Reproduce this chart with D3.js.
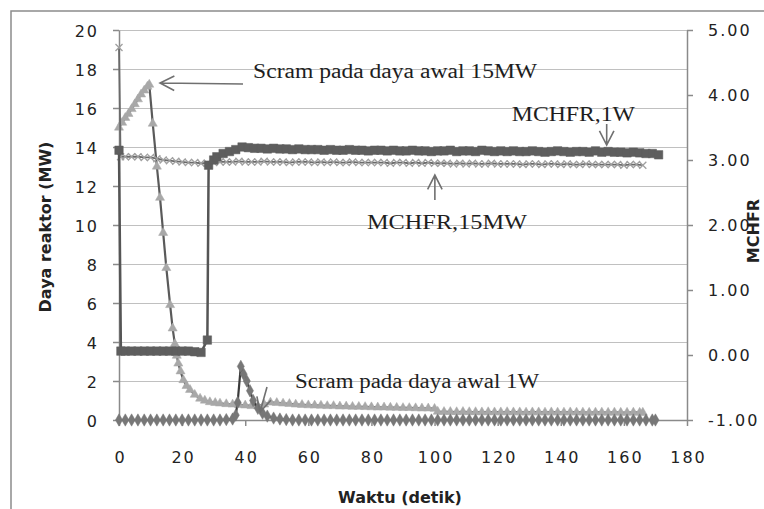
<!DOCTYPE html>
<html>
<head>
<meta charset="utf-8">
<script src="https://cdn.jsdelivr.net/npm/d3@7"></script>
<style>
    body { margin: 0; background: #fff; }
    text { font-family: "DejaVu Sans", sans-serif; }
</style>
</head>
<body>
<div id="chart"></div>
<script>
(function(){
    "use strict";

    // axis ticks
    var xTicks = [0, 20, 40, 60, 80, 100, 120, 140, 160, 180];
    var leftTicks = [0, 2, 4, 6, 8, 10, 12, 14, 16, 18, 20];
    var rightTicks = [-1, 0, 1, 2, 3, 4, 5];

    // Daya reaktor, scram pada daya awal 15MW (MW, left axis)
    var tPower15 = [0, 1, 2, 3, 4, 5, 6, 7, 8, 9, 9.6, 10.7, 12, 13, 14, 15, 16.2, 17, 17.7, 18.3, 18.8, 19.5,
        20.4, 21.4, 22.5, 24, 25.7, 27.2, 28.8, 30.5,
        32, 34, 36, 38, 40, 42, 44, 46, 48, 50, 52, 54, 56, 58, 60, 62, 64, 66, 68, 70, 72, 74, 76, 78, 80,
        82, 84, 86, 88, 90, 92, 94, 96, 98, 100,
        101, 103, 105, 107, 109, 111, 113, 115, 117, 119, 121, 123, 125, 127, 129, 131, 133, 135, 137, 139,
        141, 143, 145, 147, 149, 151, 153, 155, 157, 159, 161, 163, 165, 166];
    var power15 = [15.0, 15.25, 15.5, 15.7, 15.95, 16.2, 16.45, 16.7, 16.9, 17.1, 17.2, 15.2, 13.0, 11.4, 9.6, 7.8,
        5.9, 4.7, 3.9, 3.3, 2.9, 2.5, 2.05, 1.75, 1.55, 1.3, 1.1, 1.0, 0.92, 0.88,
        0.85, 0.82, 0.8, 0.78, 0.75, 0.72, 0.72, 0.8, 0.9, 0.88, 0.85, 0.83, 0.8, 0.78, 0.76, 0.75, 0.74, 0.72,
        0.72, 0.7, 0.7, 0.68, 0.68, 0.67, 0.66, 0.65, 0.65, 0.64, 0.63, 0.62, 0.62, 0.61, 0.6, 0.6, 0.58,
        0.43, 0.42, 0.42, 0.41, 0.42, 0.41, 0.41, 0.4, 0.41, 0.4, 0.4, 0.41, 0.4, 0.4, 0.39, 0.4, 0.4, 0.39,
        0.4, 0.39, 0.39, 0.4, 0.39, 0.39, 0.38, 0.39, 0.39, 0.38, 0.39, 0.38, 0.38, 0.39, 0.38, 0.38];

    // MCHFR, 15MW (right axis)
    var tMchfr15 = [0, 0.5, 2, 4, 6, 8, 10, 12, 14, 16, 18, 20, 22, 24, 26, 28,
        30, 32, 34, 36, 38, 40, 42, 44, 46, 48, 50, 52, 54, 56, 58, 60, 62, 64, 66, 68, 70, 72, 74, 76, 78,
        80, 82, 84, 86, 88, 90, 92, 94, 96, 98, 100,
        102, 104, 106, 108, 110, 112, 114, 116, 118, 120, 122, 124, 126, 128, 130, 132, 134, 136, 138, 140,
        142, 144, 146, 148, 150, 152, 154, 156, 158, 160, 162, 164, 166];
    var mchfr15 = [4.73, 3.05, 3.05, 3.05, 3.05, 3.04, 3.04, 3.02, 3.0, 2.99, 2.98, 2.97, 2.96, 2.96, 2.95, 2.95,
        2.96, 2.97, 2.97, 2.97, 2.98, 2.97, 2.97, 2.97, 2.98, 2.97, 2.97, 2.97, 2.96, 2.97, 2.97, 2.97, 2.96,
        2.97, 2.96, 2.97, 2.96, 2.96, 2.97, 2.96, 2.96, 2.96, 2.96, 2.96, 2.95, 2.96, 2.96, 2.95, 2.96, 2.95,
        2.96, 2.95,
        2.95, 2.95, 2.94, 2.95, 2.94, 2.95, 2.94, 2.94, 2.95, 2.94, 2.94, 2.94, 2.94, 2.93, 2.94, 2.94, 2.93,
        2.94, 2.94, 2.93, 2.94, 2.93, 2.93, 2.94, 2.93, 2.93, 2.93, 2.93, 2.93, 2.92, 2.93, 2.93, 2.92];

    // Daya reaktor, scram pada daya awal 1W (MW, left axis)
    var tPower1 = [0, 2, 4, 6, 8, 10, 12, 14, 16, 18, 20, 22, 24, 26, 28, 30, 32, 34, 36,
        37, 37.6, 38.6, 39.5, 40.5, 41.5, 42.5, 44, 45.5, 47, 49, 51, 53,
        55, 57, 59, 61, 63, 65, 67, 69, 71, 73, 75, 77, 79, 81, 83, 85, 87, 89, 91, 93, 95, 97, 99,
        101, 103, 105, 107, 109, 111, 113, 115, 117, 119, 121, 123, 125, 127, 129, 131, 133, 135, 137, 139,
        141, 143, 145, 147, 149, 151, 153, 155, 157, 159, 161, 163, 165, 167, 169, 170];
    var power1 = [0, 0, 0, 0, 0, 0, 0, 0, 0, 0, 0, 0, 0, 0, 0, 0, 0, 0.02, 0.05,
        0.25, 0.9, 2.75, 2.35, 2.0, 1.5, 1.0, 0.6, 0.35, 0.2, 0.1, 0.05, 0.02,
        0, 0, 0, 0, 0, 0, 0, 0, 0, 0, 0, 0, 0, 0, 0, 0, 0, 0, 0, 0, 0, 0, 0,
        0, 0, 0, 0, 0, 0, 0, 0, 0, 0, 0, 0, 0, 0, 0, 0, 0, 0, 0, 0,
        0, 0, 0, 0, 0, 0, 0, 0, 0, 0, 0, 0, 0, 0, 0, 0];

    // MCHFR, 1W (right axis)
    var tMchfr1 = [0, 0.6, 2, 4, 6, 8, 10, 12, 14, 16, 18, 20, 22, 24, 26,
        28, 28.4, 30, 31, 33, 35, 37, 39, 41,
        43, 45, 47, 49, 51, 53, 55, 57, 59, 61, 63, 65, 67, 69, 71, 73, 75, 77, 79, 81,
        83, 85, 87, 89, 91, 93, 95, 97, 99, 101, 103, 105, 107, 109, 111, 113, 115, 117, 119, 121,
        123, 125, 127, 129, 131, 133, 135, 137, 139, 141, 143, 145, 147, 149, 151, 153, 155, 157, 159, 161,
        163, 165, 167, 169, 171];
    var mchfr1 = [3.15, 0.06, 0.06, 0.06, 0.06, 0.06, 0.06, 0.06, 0.06, 0.06, 0.06, 0.06, 0.06, 0.05, 0.04,
        0.23, 2.92, 3.0, 3.05, 3.1, 3.13, 3.16, 3.2, 3.19,
        3.18, 3.18, 3.17, 3.18, 3.17, 3.17, 3.16, 3.17, 3.16, 3.16, 3.16, 3.15, 3.16, 3.15, 3.15, 3.16, 3.15,
        3.15, 3.14, 3.15,
        3.15, 3.14, 3.15, 3.14, 3.14, 3.15, 3.14, 3.14, 3.13, 3.14, 3.14, 3.15, 3.13, 3.14, 3.14, 3.13, 3.15,
        3.14, 3.13, 3.14,
        3.13, 3.14, 3.13, 3.13, 3.14, 3.13, 3.12, 3.13, 3.14, 3.13, 3.12, 3.13, 3.13, 3.12, 3.14, 3.12, 3.13,
        3.12, 3.12, 3.11,
        3.12, 3.11, 3.1, 3.1, 3.08];

    // annotation texts
    var notes = ["Scram pada daya awal 15MW", "MCHFR,1W", "MCHFR,15MW", "Scram pada daya awal 1W"];

    var margin = {top: 30, right: 77, bottom: 89, left: 119},
        width = 764 - margin.left - margin.right,
        height = 509 - margin.top - margin.bottom;

    var x = d3.scaleLinear().domain([0, 180]).range([0, width]);
    var yL = d3.scaleLinear().domain([0, 20]).range([height, 0]);
    var yR = d3.scaleLinear().domain([-1, 5]).range([height, 0]);

    var svg = d3.select("#chart").append("svg")
        .attr("width", 764)
        .attr("height", 509);

    svg.append("rect").attr("width", 764).attr("height", 509).attr("fill", "#fff");

    // chart frame (runs off the picture to the right and bottom)
    svg.append("rect")
        .attr("x", 11).attr("y", 11)
        .attr("width", 800).attr("height", 600)
        .attr("fill", "none")
        .attr("stroke", "#8c8c8c")
        .attr("stroke-width", 1.5);

    var g = svg.append("g")
        .attr("transform", "translate(" + margin.left + "," + margin.top + ")");

    // gridlines
    g.append("g")
        .call(d3.axisLeft(yL).tickValues(leftTicks).tickSize(-width).tickFormat(""))
        .call(function(s) {
            s.select(".domain").remove();
            s.selectAll("line").attr("stroke", "#c0c0c0").attr("stroke-width", 1);
        });

    function styleAxis(s) {
        s.select(".domain").attr("stroke", "#8a8a8a").attr("stroke-width", 1.5);
        s.selectAll(".tick line").attr("stroke", "#8a8a8a").attr("stroke-width", 1.5);
        s.selectAll(".tick text")
            .attr("fill", "#222")
            .style("font-size", "16px")
            .style("letter-spacing", "2px");
    }

    // left axis
    g.append("g")
        .call(d3.axisLeft(yL).tickValues(leftTicks).tickSize(6).tickSizeOuter(0))
        .call(styleAxis)
        .call(function(s) {
            s.selectAll(".tick text").attr("x", -20).attr("dy", "0.4em");
        });

    // bottom axis
    g.append("g")
        .attr("transform", "translate(0," + height + ")")
        .call(d3.axisBottom(x).tickValues(xTicks).tickSize(6).tickSizeOuter(0))
        .call(styleAxis)
        .call(function(s) {
            s.selectAll(".tick text").attr("y", 43).attr("dy", 0).attr("dx", "1px");
        });

    // right axis
    g.append("g")
        .attr("transform", "translate(" + width + ",0)")
        .call(d3.axisRight(yR).tickValues(rightTicks).tickSize(6).tickSizeOuter(0)
            .tickFormat(function(d) { return d.toFixed(2); }))
        .call(styleAxis)
        .call(function(s) {
            s.selectAll(".tick text").attr("x", 21).attr("dy", "0.36em");
        });

    // axis titles
    svg.append("text")
        .attr("transform", "translate(51,227) rotate(-90)")
        .attr("text-anchor", "middle")
        .attr("fill", "#222")
        .style("font-size", "16px")
        .style("font-weight", "bold")
        .text("Daya reaktor (MW)");

    svg.append("text")
        .attr("x", 400).attr("y", 503)
        .attr("text-anchor", "middle")
        .attr("fill", "#222")
        .style("font-size", "16px")
        .style("font-weight", "bold")
        .text("Waktu (detik)");

    svg.append("text")
        .attr("transform", "translate(759,231) rotate(-90)")
        .attr("text-anchor", "middle")
        .attr("fill", "#222")
        .style("font-size", "16px")
        .style("font-weight", "bold")
        .text("MCHFR");

    // series
    function drawSeries(ts, vs, y, opt) {
        var pts = d3.zip(ts, vs);
        var line = d3.line()
            .x(function(d) { return x(d[0]); })
            .y(function(d) { return y(d[1]); });

        g.append("path")
            .datum(pts)
            .attr("d", line)
            .attr("fill", "none")
            .attr("stroke", opt.line)
            .attr("stroke-width", opt.lw);

        g.append("g").selectAll("path")
            .data(pts)
            .enter().append("path")
            .attr("transform", function(d) { return "translate(" + x(d[0]) + "," + y(d[1]) + ")"; })
            .attr("d", d3.symbol().type(opt.symbol).size(opt.size))
            .attr("fill", opt.hollow ? "none" : opt.marker)
            .attr("stroke", opt.marker)
            .attr("stroke-width", opt.hollow ? 1.3 : 0.5);
    }

    drawSeries(tPower15, power15, yL, {line: "#5a5a5a", lw: 2.2, marker: "#a8a8a8", symbol: d3.symbolTriangle, size: 36});
    drawSeries(tMchfr15, mchfr15, yR, {line: "#6a6a6a", lw: 1.8, marker: "#a0a0a0", symbol: d3.symbolX, size: 34, hollow: true});
    drawSeries(tPower1, power1, yL, {line: "#3a3a3a", lw: 2.2, marker: "#777", symbol: d3.symbolDiamond, size: 44});
    drawSeries(tMchfr1, mchfr1, yR, {line: "#555", lw: 2.5, marker: "#5e5e5e", symbol: d3.symbolSquare, size: 72});

    // annotations
    function arrow(x1, y1, x2, y2) {
        var a = Math.atan2(y2 - y1, x2 - x1), h = 16, s = 0.47;
        var p = "M" + x1 + "," + y1 + "L" + x2 + "," + y2 +
            "M" + (x2 - h * Math.cos(a - s)) + "," + (y2 - h * Math.sin(a - s)) +
            "L" + x2 + "," + y2 +
            "L" + (x2 - h * Math.cos(a + s)) + "," + (y2 - h * Math.sin(a + s));
        g.append("path")
            .attr("d", p)
            .attr("fill", "none")
            .attr("stroke", "#707070")
            .attr("stroke-width", 1.6);
    }

    function note(txt, t0, t1, v) {
        g.append("text")
            .attr("x", x(t0))
            .attr("y", yL(v))
            .attr("textLength", x(t1) - x(t0))
            .attr("lengthAdjust", "spacingAndGlyphs")
            .attr("fill", "#1e1e1e")
            .style("font-family", "'Liberation Serif', 'Times New Roman', serif")
            .style("font-size", "20px")
            .text(txt);
    }

    note(notes[0], 42.5, 132.5, 17.54);
    arrow(x(39.3), yL(17.23), x(13.0), yL(17.28));

    note(notes[1], 124.5, 163.5, 15.33);
    arrow(x(154.55), yL(15.18), x(154.55), yL(14.1));

    note(notes[2], 78.6, 129.3, 9.79);
    arrow(x(100.1), yL(11.28), x(100.1), yL(12.56));

    note(notes[3], 55.8, 133.1, 1.64);
    arrow(x(46.9), yL(1.69), x(44.7), yL(0.41));

})();
</script>
</body>
</html>
